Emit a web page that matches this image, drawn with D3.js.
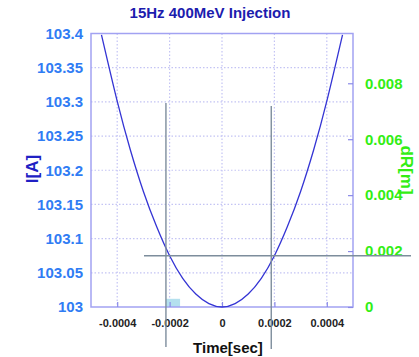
<!DOCTYPE html>
<html>
<head>
<meta charset="utf-8">
<script src="https://cdn.jsdelivr.net/npm/d3@7"></script>
<style>
  body { margin: 0; background: #fff; }
  svg { display: block; font-family: "Liberation Sans", Arial, sans-serif; }
</style>
</head>
<body>
<div id="chart"></div>
<script>
// values
const timeSec = [-0.00046, -0.0004, -0.00035, -0.0003, -0.00025, -0.0002, -0.00015, -0.0001, -0.00005, 0,
                 0.00005, 0.0001, 0.00015, 0.0002, 0.00025, 0.0003, 0.00035, 0.0004, 0.00046];
const current = [103.398, 103.301, 103.230, 103.169, 103.118, 103.075, 103.042, 103.019, 103.005, 103.0,
                 103.005, 103.019, 103.042, 103.075, 103.118, 103.169, 103.230, 103.301, 103.398];
const xTicks = [-0.0004, -0.0002, 0, 0.0002, 0.0004];
const yTicks = [103, 103.05, 103.1, 103.15, 103.2, 103.25, 103.3, 103.35, 103.4];
const dRTicks = [0, 0.002, 0.004, 0.006, 0.008];
// annotation: two vertical markers, one horizontal level, small highlight box
const markerTimes = [-0.000214, 0.000188];
const markerLevel = 103.075;
const highlight = { t0: -0.000214, t1: -0.00016, i0: 103, i1: 103.012 };

const W = 419, H = 357;
const margin = { top: 33.5, right: 66, bottom: 50, left: 91 };
const iw = W - margin.left - margin.right;
const ih = H - margin.top - margin.bottom;

const svg = d3.select('#chart').append('svg')
    .attr('width', W).attr('height', H);

const x = d3.scaleLinear().domain([-0.0005, 0.0005]).range([margin.left, margin.left + iw]);
const y = d3.scaleLinear().domain([103, 103.4]).range([margin.top + ih, margin.top]);
const y2 = d3.scaleLinear().domain([0, 0.00978]).range([margin.top + ih, margin.top]);

// title
svg.append('text')
    .attr('x', 210).attr('y', 17.5)
    .attr('text-anchor', 'middle')
    .style('font-size', '15px').style('font-weight', 'bold')
    .attr('fill', '#1c1cae')
    .text('15Hz 400MeV Injection');

// grid
const grid = svg.append('g').attr('stroke', '#c4c4f4').attr('stroke-width', 1.2)
    .attr('stroke-dasharray', '1.5,2');
xTicks.forEach(t => {
    grid.append('line').attr('x1', x(t)).attr('x2', x(t))
        .attr('y1', margin.top).attr('y2', margin.top + ih);
});
yTicks.slice(1, -1).forEach(v => {
    grid.append('line').attr('x1', margin.left).attr('x2', margin.left + iw)
        .attr('y1', y(v)).attr('y2', y(v));
});

// highlight box
svg.append('rect')
    .attr('x', x(highlight.t0)).attr('y', y(highlight.i1))
    .attr('width', x(highlight.t1) - x(highlight.t0))
    .attr('height', y(highlight.i0) - y(highlight.i1))
    .attr('fill', '#b4e0ee');

// frame
svg.append('rect')
    .attr('x', margin.left).attr('y', margin.top)
    .attr('width', iw).attr('height', ih)
    .attr('fill', 'none').attr('stroke', '#a2a2f2').attr('stroke-width', 1.5);

// x ticks (inside) and labels
const xAxis = d3.axisBottom(x).tickValues(xTicks).tickSizeInner(-5).tickSizeOuter(0)
    .tickFormat(d => d === 0 ? '0' : d3.format('.4f')(d).replace('−', '-'));
const gx = svg.append('g').attr('transform', `translate(0,${margin.top + ih})`).call(xAxis);
gx.select('.domain').remove();
gx.selectAll('.tick line').attr('stroke', '#8a8ae8').attr('stroke-width', 1.2);
gx.selectAll('.tick text')
    .attr('y', 12).attr('fill', '#222')
    .style('font-size', '11px').style('font-weight', 'bold')
    .style('font-family', '"Liberation Sans", Arial, sans-serif');

// left axis labels
const yAxis = d3.axisLeft(y).tickValues(yTicks).tickSize(0).tickPadding(8)
    .tickFormat(d => String(+d.toFixed(2)));
const gy = svg.append('g').attr('transform', `translate(${margin.left},0)`).call(yAxis);
gy.select('.domain').remove();
gy.selectAll('.tick text').attr('fill', '#2f7cf4')
    .style('font-size', '15px').style('font-weight', 'bold')
    .style('font-family', '"Liberation Sans", Arial, sans-serif');

// right axis
const y2Axis = d3.axisRight(y2).tickValues(dRTicks).tickSizeInner(-5).tickSizeOuter(0).tickPadding(12)
    .tickFormat(d => d === 0 ? '0' : d3.format('.3f')(d));
const gy2 = svg.append('g').attr('transform', `translate(${margin.left + iw},0)`).call(y2Axis);
gy2.select('.domain').remove();
gy2.selectAll('.tick line').attr('stroke', '#8a8ae8').attr('stroke-width', 1.2);
gy2.selectAll('.tick text').attr('fill', '#33ee14')
    .style('font-size', '15px').style('font-weight', 'bold')
    .style('font-family', '"Liberation Sans", Arial, sans-serif');

// axis titles
svg.append('text')
    .attr('transform', 'translate(38,169) rotate(-90)')
    .attr('text-anchor', 'middle')
    .style('font-size', '17px').style('font-weight', 'bold')
    .attr('fill', '#2020c4')
    .text('I[A]');
svg.append('text')
    .attr('transform', 'translate(401,170) rotate(90)')
    .attr('text-anchor', 'middle')
    .style('font-size', '17px').style('font-weight', 'bold')
    .attr('fill', '#33ee14')
    .text('dR[m]');
svg.append('text')
    .attr('x', 228).attr('y', 353)
    .attr('text-anchor', 'middle')
    .style('font-size', '15px').style('font-weight', 'bold')
    .attr('fill', '#111')
    .text('Time[sec]');

// curve
const pts = timeSec.map((t, i) => [t, current[i]]);
const line = d3.line()
    .x(d => x(d[0]))
    .y(d => y(d[1]))
    .curve(d3.curveNatural);
svg.append('path')
    .datum(pts)
    .attr('fill', 'none')
    .attr('stroke', '#3434d4').attr('stroke-width', 1.3)
    .attr('d', line);

// annotation lines
const ann = svg.append('g').attr('stroke', '#7d8d9c').attr('stroke-width', 1.4);
ann.append('line').attr('x1', x(markerTimes[0])).attr('x2', x(markerTimes[0]))
    .attr('y1', 103).attr('y2', 347);
ann.append('line').attr('x1', x(markerTimes[1])).attr('x2', x(markerTimes[1]))
    .attr('y1', 106).attr('y2', 349);
ann.append('line').attr('x1', 144).attr('x2', 411)
    .attr('y1', y(markerLevel)).attr('y2', y(markerLevel));
</script>
</body>
</html>
